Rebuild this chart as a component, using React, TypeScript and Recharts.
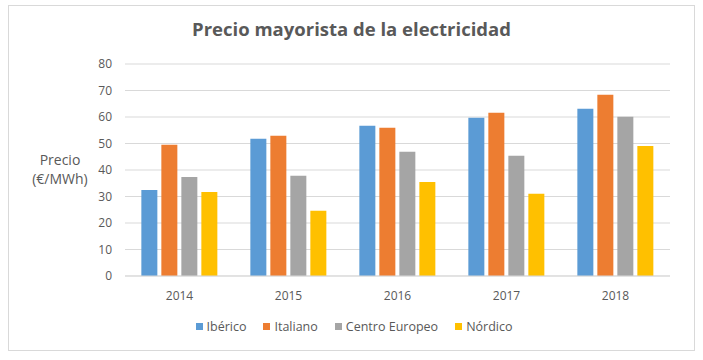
import React from "react";
import { BarChart, Bar, XAxis, YAxis, CartesianGrid } from "recharts";

const years = ["2014", "2015", "2016", "2017", "2018"];
const iberico = [32.5, 51.8, 56.7, 59.7, 63.1];
const italiano = [49.5, 52.9, 55.9, 61.6, 68.4];
const centroEuropeo = [37.4, 37.8, 46.9, 45.4, 60.1];
const nordico = [31.7, 24.6, 35.5, 31.0, 49.1];
const yTicks = [0, 10, 20, 30, 40, 50, 60, 70, 80];

const seriesNames = ["Ibérico", "Italiano", "Centro Europeo", "Nórdico"];
const seriesKeys = ["iberico", "italiano", "centro", "nordico"];
const seriesColors = ["#5B9BD5", "#ED7D31", "#A5A5A5", "#FFC000"];

const data = years.map((y, i) => ({
  year: y,
  iberico: iberico[i],
  italiano: italiano[i],
  centro: centroEuropeo[i],
  nordico: nordico[i],
}));

const FONT = "'Open Sans', sans-serif";
const TEXT = "#595959";

export default function App() {
  return (
    <div
      style={{
        position: "absolute",
        left: 0,
        top: 0,
        width: 703,
        height: 360,
        background: "#fff",
        fontFamily: FONT,
      }}
    >
      <div
        style={{
          position: "absolute",
          left: 8,
          top: 5,
          width: 685,
          height: 344,
          border: "1px solid #d9d9d9",
        }}
      />
      <div
        style={{
          position: "absolute",
          left: 0,
          top: 16,
          width: 703,
          textAlign: "center",
          fontSize: 18.5,
          fontWeight: 700,
          color: TEXT,
        }}
      >
        Precio mayorista de la electricidad
      </div>
      <div
        style={{
          position: "absolute",
          left: 20,
          top: 150,
          width: 80,
          textAlign: "center",
          fontSize: 14,
          lineHeight: "19px",
          color: TEXT,
        }}
      >
        Precio
        <br />
        (€/MWh)
      </div>
      <div style={{ position: "absolute", left: 0, top: 0 }}>
        <BarChart
          width={703}
          height={360}
          data={data}
          margin={{ top: 64, right: 33, bottom: 54, left: 0 }}
          barCategoryGap="15%"
          barGap={4}
        >
          <CartesianGrid vertical={false} stroke="#d9d9d9" strokeWidth={1} />
          <XAxis
            dataKey="year"
            height={30}
            tickSize={0}
            tickMargin={15}
            axisLine={{ stroke: "#d9d9d9" }}
            tickLine={false}
            tick={{ fill: TEXT, fontSize: 12, fontFamily: FONT }}
          />
          <YAxis
            width={125}
            domain={[0, 80]}
            ticks={yTicks}
            tickSize={0}
            tickMargin={13}
            axisLine={false}
            tickLine={false}
            tick={{ fill: TEXT, fontSize: 12, fontFamily: FONT }}
          />
          {seriesKeys.map((k, i) => (
            <Bar
              key={k}
              dataKey={k}
              name={seriesNames[i]}
              fill={seriesColors[i]}
              isAnimationActive={false}
            />
          ))}
        </BarChart>
      </div>
      <div
        style={{
          position: "absolute",
          left: 0,
          top: 318,
          width: 708,
          display: "flex",
          justifyContent: "center",
          gap: 17,
          fontSize: 12.5,
          color: TEXT,
        }}
      >
        {seriesNames.map((n, i) => (
          <div key={n} style={{ display: "flex", alignItems: "center", gap: 4 }}>
            <span
              style={{
                display: "inline-block",
                width: 7,
                height: 7,
                background: seriesColors[i],
              }}
            />
            <span>{n}</span>
          </div>
        ))}
      </div>
    </div>
  );
}
